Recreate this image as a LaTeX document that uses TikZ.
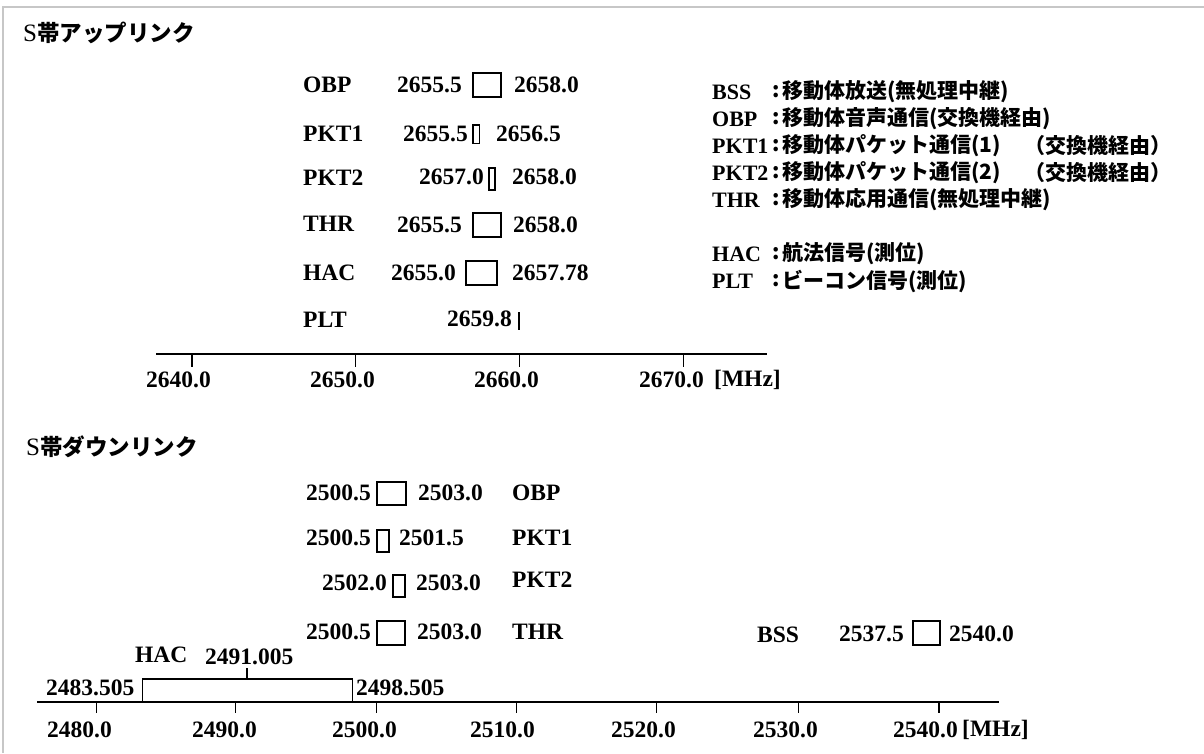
\documentclass[tikz,border=0pt]{standalone}
\usepackage{fontspec}
\setmainfont{Liberation Serif}
\newfontfamily\jp{Noto Sans CJK JP}
\tikzset{
  lbl/.style={inner sep=0pt, anchor=west, font=\fontsize{23.5}{24}\selectfont\bfseries},
  leglat/.style={inner sep=0pt, anchor=west, font=\fontsize{22}{22}\selectfont\bfseries},
  legjp/.style={inner sep=0pt, anchor=west, font=\jp\bfseries\fontsize{21}{21}\selectfont},
  ttl/.style={inner sep=0pt, anchor=west},
  band/.style={draw, line width=1.4pt},
  axisline/.style={line width=1.8pt},
  tickline/.style={line width=1.5pt},
  frameline/.style={draw=black!22, line width=1.4pt}
}
\begin{document}
\begin{tikzpicture}[x=1pt,y=-1pt]
\useasboundingbox (0,0) rectangle (1204,753);
\fill[white] (0,0) rectangle (1204,753);
\draw[frameline] (3,753) -- (3,7) -- (1204,7);

% ---------- titles ----------
\node[ttl] (t-up) at (23,33) {{\fontsize{25}{25}\selectfont S}{\jp\bfseries\fontsize{22.5}{22.5}\selectfont 帯アップリンク}};
\node[ttl] (t-dn) at (26,447) {{\fontsize{25}{25}\selectfont S}{\jp\bfseries\fontsize{22.5}{22.5}\selectfont 帯ダウンリンク}};

% ---------- uplink rows ----------
\node[lbl] (u-obp) at (303,84.5) {OBP};
\node[lbl] (u-obp-a) at (397,85) {2655.5};
\draw[band] (473,73) rectangle (501,97);
\node[lbl] (u-obp-b) at (514,85) {2658.0};

\node[lbl] (u-pk1) at (303,134) {PKT1};
\node[lbl] (u-pk1-a) at (403,134) {2655.5};
\draw[band] (473,125) rectangle (479.5,143.5);
\node[lbl] (u-pk1-b) at (496,134) {2656.5};

\node[lbl] (u-pk2) at (303,178) {PKT2};
\node[lbl] (u-pk2-a) at (419,177) {2657.0};
\draw[band] (489,168) rectangle (495,190);
\node[lbl] (u-pk2-b) at (512,177) {2658.0};

\node[lbl] (u-thr) at (303,224) {THR};
\node[lbl] (u-thr-a) at (397,224.5) {2655.5};
\draw[band] (473,213) rectangle (501,237);
\node[lbl] (u-thr-b) at (513,224.5) {2658.0};

\node[lbl] (u-hac) at (303,272.5) {HAC};
\node[lbl] (u-hac-a) at (391,272.5) {2655.0};
\draw[band] (466,261) rectangle (497,285);
\node[lbl] (u-hac-b) at (512,272.5) {2657.78};

\node[lbl] (u-plt) at (303,320) {PLT};
\node[lbl] (u-plt-a) at (447,319) {2659.8};
\draw[band] (519,312) -- (519,330);

% ---------- uplink axis ----------
\draw[axisline] (156,354.3) -- (767,354.3);
\foreach \xx in {191.8,355.7,519.6,683.5} \draw[tickline] (\xx,354.3) -- (\xx,367);
\node[lbl] (ua-1) at (146,380) {2640.0};
\node[lbl] (ua-2) at (310,380) {2650.0};
\node[lbl] (ua-3) at (474,380) {2660.0};
\node[lbl] (ua-4) at (639,380) {2670.0};
\node[lbl] (ua-u) at (714,380) {[MHz]};

% ---------- legend ----------
\node[leglat] (l1) at (712,92) {BSS};
\node[legjp] (l1c) at (772,92) {:};
\node[legjp] (l1t) at (782,92) {移動体放送(無処理中継)};
\node[leglat] (l2) at (712,119) {OBP};
\node[legjp] (l2c) at (772,119) {:};
\node[legjp] (l2t) at (782,119) {移動体音声通信(交換機経由)};
\node[leglat] (l3) at (712,146) {PKT1};
\node[legjp] (l3c) at (772,146) {:};
\node[legjp] (l3t) at (782,146) {移動体パケット通信(1)};
\node[legjp, anchor=east] (l3u) at (1172,146) {（交換機経由）};
\node[leglat] (l4) at (712,173) {PKT2};
\node[legjp] (l4c) at (772,173) {:};
\node[legjp] (l4t) at (782,173) {移動体パケット通信(2)};
\node[legjp, anchor=east] (l4u) at (1172,173) {（交換機経由）};
\node[leglat] (l5) at (712,200) {THR};
\node[legjp] (l5c) at (772,200) {:};
\node[legjp] (l5t) at (782,200) {移動体応用通信(無処理中継)};
\node[leglat] (l6) at (712,254) {HAC};
\node[legjp] (l6c) at (772,254) {:};
\node[legjp] (l6t) at (782,254) {航法信号(測位)};
\node[leglat] (l7) at (712,281) {PLT};
\node[legjp] (l7c) at (772,281) {:};
\node[legjp] (l7t) at (782,281) {ビーコン信号(測位)};

% ---------- downlink rows ----------
\node[lbl] (d-obp-a) at (306,493) {2500.5};
\draw[band] (377,482) rectangle (406,505);
\node[lbl] (d-obp-b) at (418,493) {2503.0};
\node[lbl] (d-obp) at (512,493) {OBP};

\node[lbl] (d-pk1-a) at (306,538) {2500.5};
\draw[band] (377,530) rectangle (389,552);
\node[lbl] (d-pk1-b) at (399,538) {2501.5};
\node[lbl] (d-pk1) at (512,538) {PKT1};

\node[lbl] (d-pk2-a) at (322,583) {2502.0};
\draw[band] (393,575) rectangle (405,597);
\node[lbl] (d-pk2-b) at (416,583) {2503.0};
\node[lbl] (d-pk2) at (512,580) {PKT2};

\node[lbl] (d-thr-a) at (306,632) {2500.5};
\draw[band] (377,621) rectangle (405,645);
\node[lbl] (d-thr-b) at (417,632) {2503.0};
\node[lbl] (d-thr) at (512,632) {THR};

\node[lbl] (d-bss) at (757,635) {BSS};
\node[lbl] (d-bss-a) at (839,634) {2537.5};
\draw[band] (913,621) rectangle (940,645);
\node[lbl] (d-bss-b) at (949,634) {2540.0};

\node[lbl] (d-hac) at (135,655) {HAC};
\node[lbl] (d-hac-c) at (205,657) {2491.005};
\draw[band] (142.7,701.7) -- (142.7,679) -- (352.7,679) -- (352.7,701.7);
\draw[band] (247,668) -- (247,679);
\node[lbl] (d-hac-a) at (46,688) {2483.505};
\node[lbl] (d-hac-b) at (356,688) {2498.505};

% ---------- downlink axis ----------
\draw[axisline] (37,701.7) -- (999,701.7);
\foreach \xx in {96.7,235.3,376.7,516.7,656.7,798.3,939} \draw[tickline] (\xx,701.7) -- (\xx,713);
\node[lbl] (da-1) at (47,730) {2480.0};
\node[lbl] (da-2) at (192,730) {2490.0};
\node[lbl] (da-3) at (332,730) {2500.0};
\node[lbl] (da-4) at (470,730) {2510.0};
\node[lbl] (da-5) at (611,730) {2520.0};
\node[lbl] (da-6) at (753,730) {2530.0};
\node[lbl] (da-7) at (893,730) {2540.0};
\node[lbl] (da-u) at (962,730) {[MHz]};
\end{tikzpicture}
\end{document}
